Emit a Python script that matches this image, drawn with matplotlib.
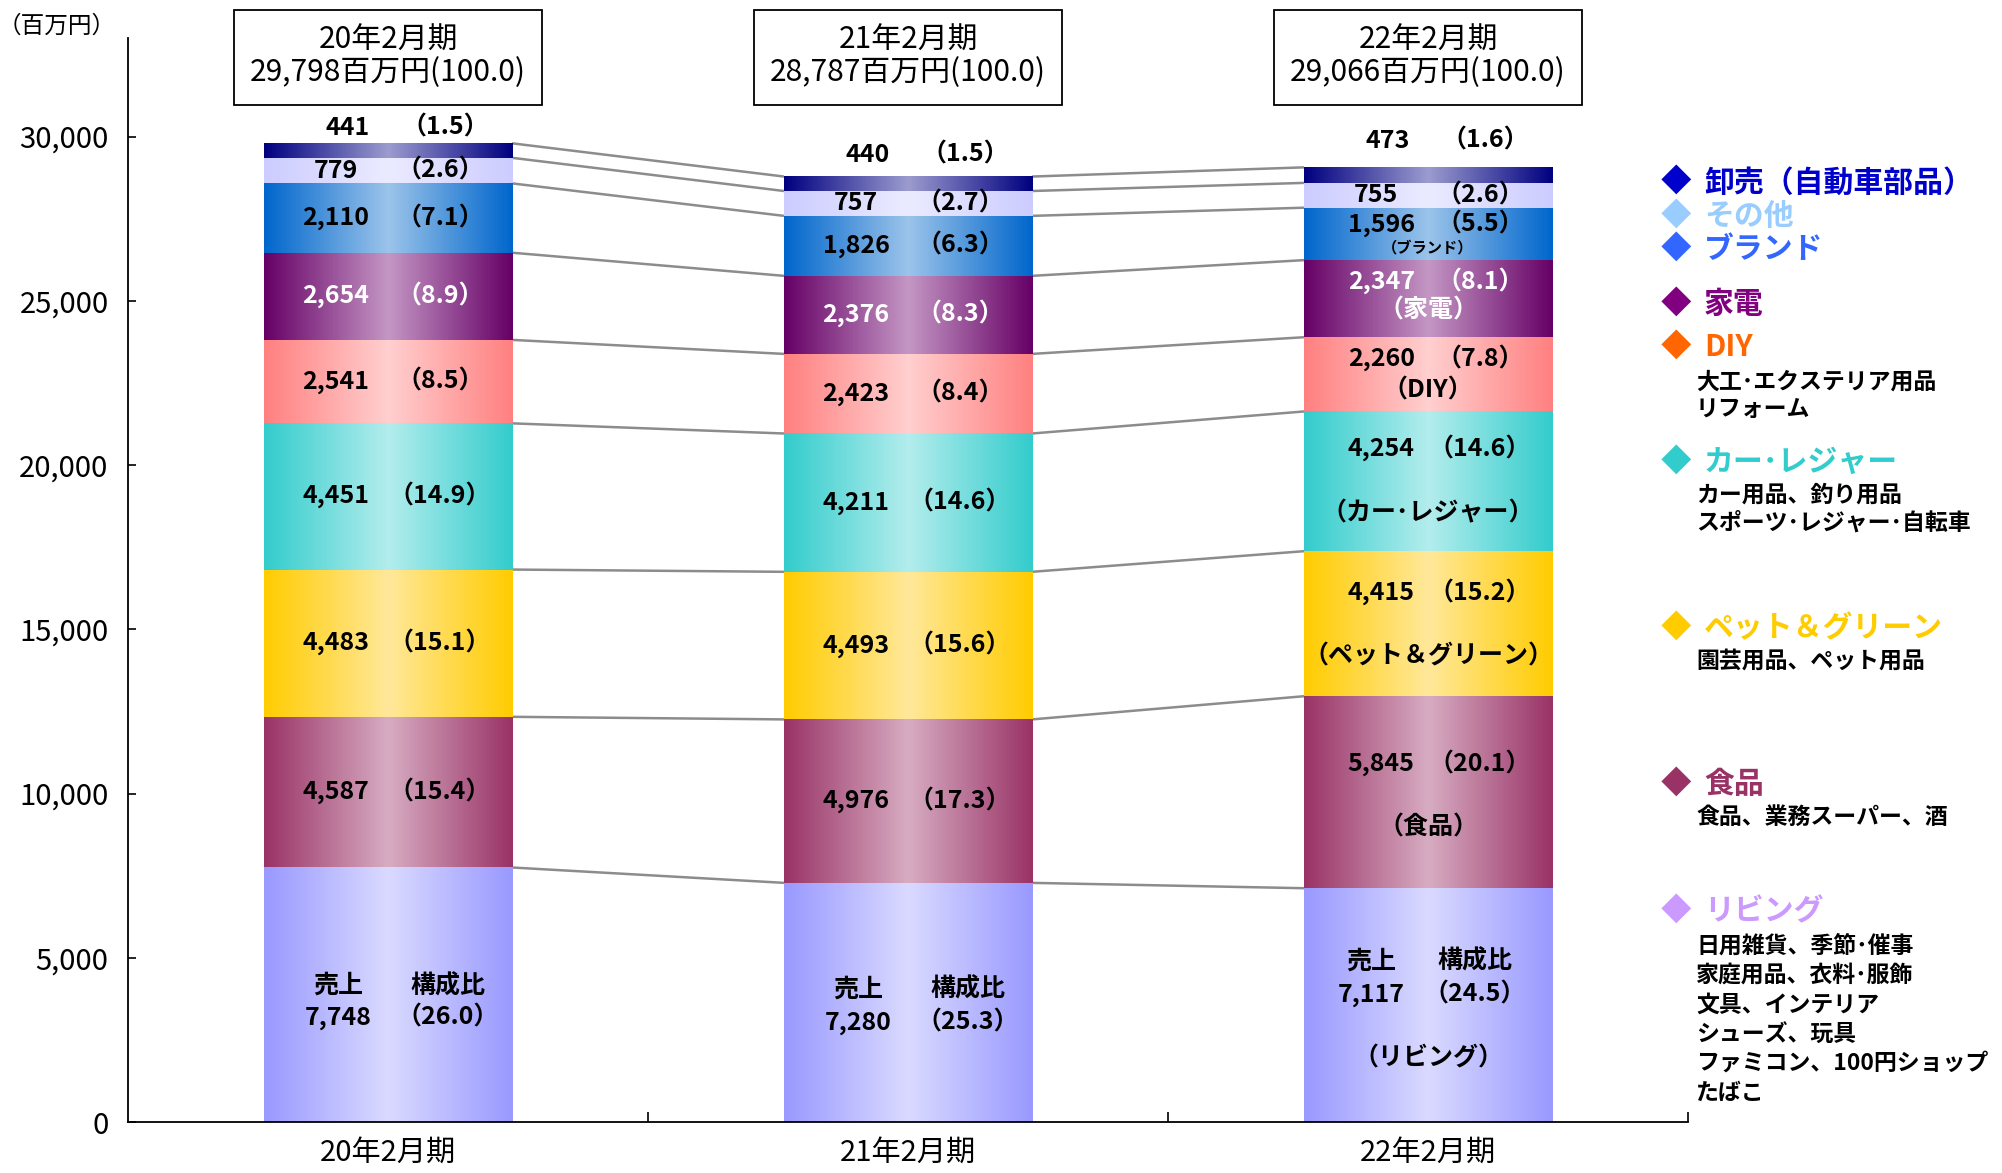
import numpy as np
import matplotlib
matplotlib.use("Agg")
import matplotlib.pyplot as plt
from matplotlib.colors import to_rgb
from matplotlib.patches import Rectangle
from matplotlib.transforms import blended_transform_factory

plt.rcParams['font.family'] = ['Noto Sans CJK JP', 'DejaVu Sans']

# ---------------- data ----------------
periods = ['20年2月期', '21年2月期', '22年2月期']
totals = ['29,798', '28,787', '29,066']
segments = ['リビング', '食品', 'ペット＆グリーン', 'カー･レジャー', 'DIY',
            '家電', 'ブランド', 'その他', '卸売（自動車部品）']
sales_20 = [7748, 4587, 4483, 4451, 2541, 2654, 2110, 779, 441]
sales_21 = [7280, 4976, 4493, 4211, 2423, 2376, 1826, 757, 440]
sales_22 = [7117, 5845, 4415, 4254, 2260, 2347, 1596, 755, 473]
ratio_20 = [26.0, 15.4, 15.1, 14.9, 8.5, 8.9, 7.1, 2.6, 1.5]
ratio_21 = [25.3, 17.3, 15.6, 14.6, 8.4, 8.3, 6.3, 2.7, 1.5]
ratio_22 = [24.5, 20.1, 15.2, 14.6, 7.8, 8.1, 5.5, 2.6, 1.6]
yticks = [0, 5000, 10000, 15000, 20000, 25000, 30000]

legend_titles = ['卸売（自動車部品）', 'その他', 'ブランド', '家電', 'DIY',
                 'カー･レジャー', 'ペット＆グリーン', '食品', 'リビング']
legend_desc = [[], [], [], [],
               ['大工･エクステリア用品', 'リフォーム'],
               ['カー用品、釣り用品', 'スポーツ･レジャー･自転車'],
               ['園芸用品、ペット用品'],
               ['食品、業務スーパー、酒'],
               ['日用雑貨、季節･催事', '家庭用品、衣料･服飾', '文具、インテリア',
                'シューズ、玩具', 'ファミコン、100円ショップ', 'たばこ']]

# ---------------- styles ----------------
edge_cols = ['#9999FF', '#993366', '#FFCC00', '#33CCCC', '#FF8080',
             '#660066', '#0066CC', '#CCCCFF', '#000080']
center_cols = ['#DADAFF', '#D7ACC2', '#FFE89A', '#B4EDED', '#FFCFCF',
               '#C497C4', '#9CC4EA', '#EBEBFF', '#9C9CCF']
legend_cols = ['#0000CC', '#99CCFF', '#3366FF', '#800080', '#FF6600',
               '#33CCCC', '#FFCC00', '#993366', '#CC99FF']

W, H, DPI = 2002, 1173, 100
fig = plt.figure(figsize=(W / DPI, H / DPI), dpi=DPI)
ax = fig.add_axes([128 / W, 1 - 1122 / H, (1688 - 128) / W, (1122 - 38) / H])

all_sales = [sales_20, sales_21, sales_22]
all_ratio = [ratio_20, ratio_21, ratio_22]
x = np.arange(len(periods))
bw = 0.477

def grad_img(edge, center, n=256):
    t = np.linspace(0, 1, n)
    f = np.abs(2 * t - 1)
    e = np.array(to_rgb(edge)); c = np.array(to_rgb(center))
    img = c[None, :] + (e - c)[None, :] * f[:, None]
    return img[None, :, :]

bottoms = np.zeros(len(periods))
cum_tops = []
for j in range(len(segments)):
    vals = np.array([s[j] for s in all_sales], dtype=float)
    bars = ax.bar(x, vals, bw, bottom=bottoms, facecolor='none', edgecolor='none', zorder=3)
    img = grad_img(edge_cols[j], center_cols[j])
    for p in bars.patches:
        x0, y0 = p.get_x(), p.get_y()
        ax.imshow(img, extent=[x0, x0 + p.get_width(), y0, y0 + p.get_height()],
                  aspect='auto', zorder=2, interpolation='bilinear')
    bottoms = bottoms + vals
    cum_tops.append(bottoms.copy())

for j in range(len(segments)):
    for i in range(len(periods) - 1):
        ax.plot([x[i] + bw / 2, x[i + 1] - bw / 2], [cum_tops[j][i], cum_tops[j][i + 1]],
                color='#8C8C8C', lw=1.8, zorder=1, solid_capstyle='butt')

ax.set_xlim(-0.5, 2.5)
ax.set_ylim(0, 33000)

# ---------------- labels ----------------
FS = 18
k = 0.92  # reference px -> points

def put(i, y, dx, dy_px, s, color='black', fs=FS, weight='bold'):
    ax.annotate(s, xy=(x[i] + dx, y), xytext=(0, -dy_px * k), textcoords='offset points',
                ha='center', va='center', fontsize=fs, fontweight=weight, color=color,
                zorder=5, annotation_clip=False)

bar3_names = {6: ('（ブランド）', -7, 11, 11), 5: ('（家電）', -13, 9, FS),
              4: ('（DIY）', -12, 13, FS), 3: ('（カー･レジャー）', -25, 25, FS),
              2: ('（ペット＆グリーン）', -24, 26, FS), 1: ('（食品）', -22, 28, FS)}
top_gap = [-12, -17, -21]

for i in range(len(periods)):
    sales = all_sales[i]; ratio = all_ratio[i]
    base = 0
    for j in range(len(segments)):
        v = sales[j]
        mid = base + v / 2
        col = 'white' if j == 5 else 'black'
        vs = f'{v:,}'
        rs = f'（{ratio[j]:.1f}）'
        if j == 8:
            top = base + v
            put(i, top, -0.078, top_gap[i], vs)
            put(i, top, 0.11, top_gap[i], rs)
        elif j == 0:
            if i < 2:
                d1, d2 = (-7, 18) if i == 0 else (-10, 16)
                put(i, mid, -0.095, d1, '売上')
                put(i, mid, 0.115, d1, '構成比')
                put(i, mid, -0.095, d2, vs)
                put(i, mid, 0.115, d2, rs)
            else:
                put(i, mid, -0.11, -34, '売上')
                put(i, mid, 0.09, -34, '構成比')
                put(i, mid, -0.11, -8, vs)
                put(i, mid, 0.09, -8, rs)
                put(i, mid, 0.0, 42, '（リビング）')
        elif i == 2 and j in bar3_names:
            name, d1, d2, nfs = bar3_names[j]
            put(i, mid, -0.09, d1, vs, col)
            put(i, mid, 0.1, d1, rs, col)
            put(i, mid, 0.0, d2, name, col, fs=nfs)
        else:
            put(i, mid, -0.1, 0, vs, col)
            put(i, mid, 0.1, 0, rs, col)
        base += v

# ---------------- axes styling ----------------
for s in ['top', 'right']:
    ax.spines[s].set_visible(False)
for s in ['left', 'bottom']:
    ax.spines[s].set_linewidth(1.3)
    ax.spines[s].set_color('black')
ax.set_yticks(yticks)
ax.set_yticklabels([f'{t:,}' for t in yticks], fontsize=21)
ax.tick_params(axis='y', direction='in', length=6, width=1.2, pad=14)
ax.set_xticks(x)
ax.set_xticklabels(periods, fontsize=21)
ax.tick_params(axis='x', which='major', length=0, pad=11)
ax.set_xticks([0.5, 1.5, 2.5], minor=True)
ax.tick_params(axis='x', which='minor', direction='in', length=7, width=1.2)

fig.text(57 / W, 1 - 26 / H, '（百万円）', ha='center', va='center', fontsize=17)

# header boxes
tb = blended_transform_factory(ax.transData, fig.transFigure)
bwid = 0.594
for i in range(len(periods)):
    r = Rectangle((x[i] - bwid / 2, 1 - 105 / H), bwid, (105 - 10) / H, transform=tb,
                  facecolor='white', edgecolor='black', lw=1.3, clip_on=False, zorder=6)
    ax.add_patch(r)
    ax.text(x[i], 1 - 40 / H, periods[i], transform=tb, ha='center', va='center',
            fontsize=21.5, zorder=7)
    ax.text(x[i], 1 - 73 / H, f'{totals[i]}百万円(100.0)', transform=tb, ha='center',
            va='center', fontsize=21.5, zorder=7)

# ---------------- legend ----------------
s = 1.2768
title_y = [143, 169, 195, 238, 272, 362, 492, 614, 714]
desc_y = [[], [], [], [], [299, 321], [388, 410], [518], [640], [741, 764, 787, 810, 833, 856]]
for t, ty, c, ds, dys in zip(legend_titles, title_y, legend_cols, legend_desc, desc_y):
    fig.text(1676 / W, 1 - ty * s / H, '◆', color=c, fontsize=22, ha='center', va='center')
    fig.text(1704 / W, 1 - ty * s / H, t, color=c, fontsize=21.5, fontweight='bold',
             ha='left', va='center')
    for d, dy in zip(ds, dys):
        fig.text(1696 / W, 1 - dy * s / H, d, color='black', fontsize=16.5, fontweight='bold',
                 ha='left', va='center')

fig.savefig('out.png', dpi=DPI, facecolor='white')
